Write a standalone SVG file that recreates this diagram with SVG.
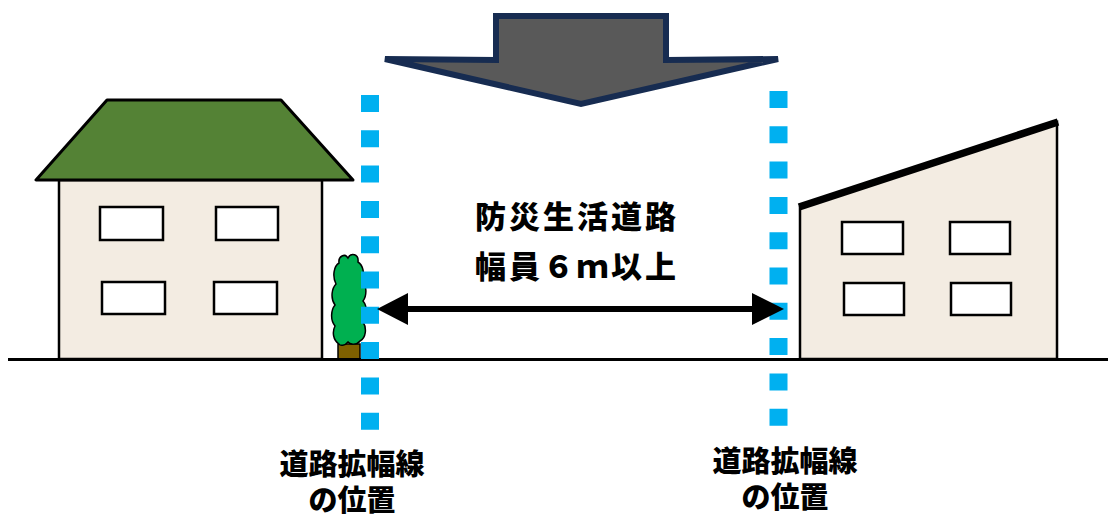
<svg xmlns="http://www.w3.org/2000/svg" width="1108" height="520" viewBox="0 0 1108 520">
  <style>
    .wall { fill: #F3ECE2; stroke: #000; stroke-width: 2.5; }
    .win { fill: #fff; stroke: #000; stroke-width: 2.5; }
    .dots { stroke: #00B0F0; stroke-width: 18; stroke-dasharray: 17 18.3; fill: none; }
    .lbl { font-family: "Noto Sans CJK JP", "Noto Sans", sans-serif; font-weight: 900; fill: #000; text-anchor: middle; }
  </style>
  <rect width="1108" height="520" fill="#fff"/>

  <!-- big downward arrow -->
  <g id="down-arrow">
    <polygon points="496,16 666,16 666,60 778,59 581,104 385,59 496,60" fill="#595959" stroke="#172C51" stroke-width="6" stroke-linejoin="miter"/>
  </g>

  <!-- left house -->
  <g id="house-left">
    <rect class="wall" x="59" y="180" width="263" height="179"/>
    <polygon points="36,180 353,180 281,100 107,100" fill="#548235" stroke="#000" stroke-width="3" stroke-linejoin="round"/>
    <rect class="win" x="100" y="207" width="63" height="33"/>
    <rect class="win" x="216" y="207" width="62" height="33"/>
    <rect class="win" x="102" y="282" width="63" height="32"/>
    <rect class="win" x="214" y="282" width="63" height="32"/>
  </g>

  <!-- right house -->
  <g id="house-right">
    <polygon class="wall" points="800,207 1057,122 1057,359 800,359"/>
    <line x1="799" y1="207" x2="1058" y2="122" stroke="#000" stroke-width="7.5"/>
    <rect class="win" x="842" y="222" width="61" height="32"/>
    <rect class="win" x="950" y="222" width="60" height="32"/>
    <rect class="win" x="844" y="283" width="60" height="32"/>
    <rect class="win" x="951" y="283" width="60" height="32"/>
  </g>

  <!-- potted tree -->
  <g id="tree">
    <rect x="338" y="344" width="22" height="15" fill="#7F6000" stroke="#000" stroke-width="1.5"/>
    <path d="M339,344 C333,340 332,332 335,326 C330,320 331,310 335,305 C330,298 332,288 336,284 C332,276 334,266 339,263 C338,256 345,253 348,258 C351,252 359,254 358,262 C363,265 365,274 362,280 C367,285 367,296 363,301 C368,307 367,318 363,322 C367,328 366,338 360,341 C357,345 350,345 348,342 C345,346 340,346 339,344 Z" fill="#00B050" stroke="#000" stroke-width="1.5"/>
  </g>

  <!-- ground -->
  <line x1="8" y1="359.5" x2="1110" y2="359.5" stroke="#000" stroke-width="3"/>

  <!-- road widening lines and width arrow -->
  <g id="connectors">
    <line class="dots" x1="370" y1="95" x2="370" y2="430"/>
    <line class="dots" x1="778.5" y1="91" x2="778.5" y2="426"/>
    <line x1="400" y1="309" x2="760" y2="309" stroke="#000" stroke-width="6"/>
    <polygon points="377,309 408,293 408,325" fill="#000"/>
    <polygon points="784,309 752,293 752,325" fill="#000"/>
  </g>

  <!-- labels -->
  <g id="road-label">
    <text class="lbl" x="577" y="228" font-size="31" letter-spacing="3">防災生活道路</text>
    <text class="lbl" x="577" y="278" font-size="31" letter-spacing="3">幅員６ｍ以上</text>
  </g>
  <g id="label-left">
    <text class="lbl" x="352" y="475" font-size="29">道路拡幅線</text>
    <text class="lbl" x="352" y="511" font-size="29">の位置</text>
  </g>
  <g id="label-right">
    <text class="lbl" x="785" y="472" font-size="29">道路拡幅線</text>
    <text class="lbl" x="785" y="508" font-size="29">の位置</text>
  </g>
</svg>
